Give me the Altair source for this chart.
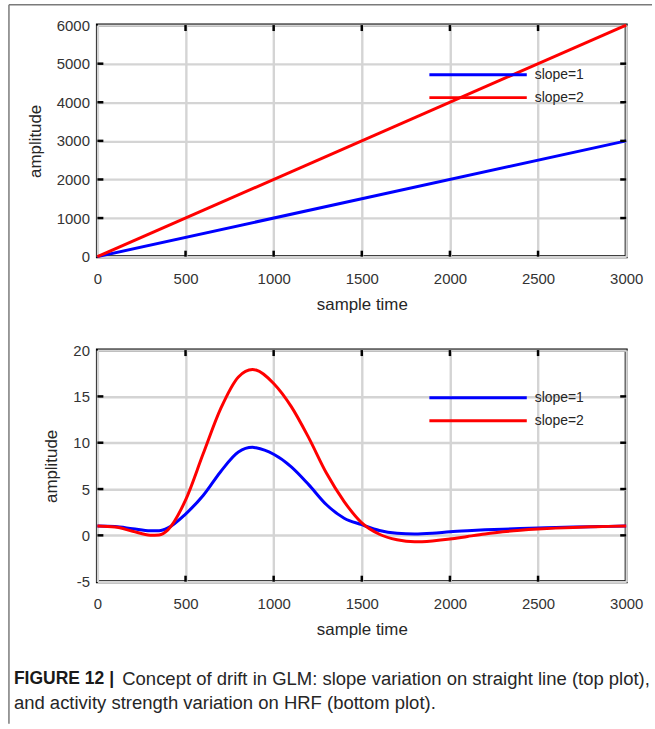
import altair as alt
import pandas as pd

# ---------------- data ----------------
series_names = ["slope=1", "slope=2"]
series_colors = ["#0000ff", "#ff0000"]

# top plot: straight lines
x_line = [0, 3000]
line_slope1 = [0, 3000]
line_slope2 = [0, 6000]

# bottom plot: HRF curves
x_hrf = [0, 100, 200, 300, 350, 400, 500, 600, 700, 800, 880, 900, 1000, 1100,
         1200, 1300, 1400, 1500, 1600, 1700, 1800, 1900, 2000, 2100, 2200, 2300,
         2400, 2500, 2600, 2700, 2800, 2900, 3000]
hrf_slope1 = [1.0, 0.95, 0.72, 0.5, 0.5, 0.8, 2.3, 4.3, 6.9, 9.0, 9.5, 9.45, 8.75, 7.4,
              5.45, 3.3, 1.85, 1.15, 0.52, 0.22, 0.14, 0.22, 0.38, 0.5, 0.6, 0.67,
              0.73, 0.79, 0.85, 0.9, 0.94, 0.97, 1.0]
hrf_slope2 = [1.0, 0.9, 0.45, 0.02, 0.05, 0.6, 3.8, 8.8, 13.7, 17.1, 17.9, 17.85, 16.4, 13.9,
              10.5, 6.7, 3.65, 1.35, 0.12, -0.48, -0.7, -0.6, -0.4, -0.12, 0.15, 0.38,
              0.55, 0.68, 0.78, 0.86, 0.92, 0.97, 1.0]

x_ticks = [0, 500, 1000, 1500, 2000, 2500, 3000]
top_y_ticks = [0, 1000, 2000, 3000, 4000, 5000, 6000]
bottom_y_ticks = [-5, 0, 5, 10, 15, 20]

caption_bold = "FIGURE 12 |"
caption_line1 = "Concept of drift in GLM: slope variation on straight line (top plot),"
caption_line2 = "and activity strength variation on HRF (bottom plot)."

# ---------------- layout / style ----------------
W, H = 532, 233
FONT = "Liberation Sans"
TICK_LEN = 6


def make_df(xs, ys_list):
    rows = []
    for name, ys in zip(series_names, ys_list):
        for xv, yv in zip(xs, ys):
            rows.append({"x": xv, "y": yv, "series": name})
    return pd.DataFrame(rows)


def panel(df, yticks, legend_y, extra=None):
    x_scale = alt.Scale(domain=[x_ticks[0], x_ticks[-1]], nice=False, zero=False)
    y_scale = alt.Scale(domain=[yticks[0], yticks[-1]], nice=False, zero=False)
    x_axis = alt.Axis(values=x_ticks, title="sample time", grid=True, domain=False,
                      ticks=False, labelPadding=15, titlePadding=10,
                      labelExpr="'' + datum.value", labelOverlap=False, labelFlush=False)
    y_axis = alt.Axis(values=yticks, title="amplitude", grid=True, domain=False,
                      ticks=False, labelPadding=8, titlePadding=12,
                      labelExpr="'' + datum.value", labelOverlap=False, labelFlush=False)
    lines = alt.Chart(df).mark_line(strokeWidth=3, clip=False, interpolate="monotone").encode(
        x=alt.X("x:Q", scale=x_scale, axis=x_axis),
        y=alt.Y("y:Q", scale=y_scale, axis=y_axis),
        color=alt.Color("series:N", scale=alt.Scale(domain=series_names, range=series_colors),
                        legend=None),
        order="x:Q",
    )
    xt = pd.DataFrame({"x": x_ticks[1:-1]})
    yt = pd.DataFrame({"y": yticks[1:-1]})
    xv = alt.X("x:Q", scale=x_scale, axis=x_axis)
    yv = alt.Y("y:Q", scale=y_scale, axis=y_axis)
    tick_layers = [
        alt.Chart(xt).mark_rule(color="black", strokeWidth=2.5).encode(
            x=xv, y=alt.value(0), y2=alt.value(TICK_LEN)),
        alt.Chart(xt).mark_rule(color="black", strokeWidth=2.5).encode(
            x=xv, y=alt.value(H - TICK_LEN), y2=alt.value(H)),
        alt.Chart(yt).mark_rule(color="black", strokeWidth=2.5).encode(
            y=yv, x=alt.value(0), x2=alt.value(TICK_LEN)),
        alt.Chart(yt).mark_rule(color="black", strokeWidth=2.5).encode(
            y=yv, x=alt.value(W - TICK_LEN), x2=alt.value(W)),
    ]
    legend_layers = []
    for i, (name, col) in enumerate(zip(series_names, series_colors)):
        ldf = pd.DataFrame({"series": [name]})
        yy = legend_y[i]
        legend_layers.append(
            alt.Chart(ldf).mark_rule(color=col, strokeWidth=3).encode(
                x=alt.value(334), x2=alt.value(432), y=alt.value(yy)))
        legend_layers.append(
            alt.Chart(ldf).mark_text(align="left", baseline="middle", font=FONT,
                                     fontSize=14, color="#262626").encode(
                x=alt.value(440), y=alt.value(yy), text="series:N"))
    layers = [lines] + tick_layers + legend_layers
    if extra:
        layers += extra
    return alt.layer(*layers).properties(width=W, height=H)


frame_df = pd.DataFrame({"k": [0]})
frame = [
    alt.Chart(frame_df).mark_rule(color="#7a7a7a", strokeWidth=1.5).encode(
        x=alt.value(-89), x2=alt.value(558), y=alt.value(-20.5)),
    alt.Chart(frame_df).mark_rule(color="#7a7a7a", strokeWidth=1.5).encode(
        x=alt.value(-89), y=alt.value(-20.5), y2=alt.value(703)),
]

top = panel(make_df(x_line, [line_slope1, line_slope2]), top_y_ticks, [50, 73], extra=frame)
bottom = panel(make_df(x_hrf, [hrf_slope1, hrf_slope2]), bottom_y_ticks, [48, 71])

cap_df = pd.DataFrame({"a": [caption_bold], "b": [caption_line1], "c": [caption_line2]})
CAP_FONT = "Liberation Sans"
CAP_SIZE = 18.6
caption = alt.layer(
    alt.Chart(cap_df).mark_text(align="left", baseline="middle", font=CAP_FONT, fontSize=17.6,
                                fontWeight="bold", color="#1a1a1a").encode(
        x=alt.value(-84), y=alt.value(4), text="a:N"),
    alt.Chart(cap_df).mark_text(align="left", baseline="middle", font=CAP_FONT, fontSize=CAP_SIZE,
                                color="#262626").encode(
        x=alt.value(25), y=alt.value(4), text="b:N"),
    alt.Chart(cap_df).mark_text(align="left", baseline="middle", font=CAP_FONT, fontSize=CAP_SIZE,
                                color="#262626").encode(
        x=alt.value(-84), y=alt.value(28), text="c:N"),
).properties(width=W, height=30, view=alt.ViewBackground(stroke=None))

chart = alt.vconcat(top, bottom, caption, spacing=94, bounds="flush").properties(
    padding={"left": 6, "top": 0, "right": 0, "bottom": 0},
    background="white",
).configure_view(
    stroke="black", strokeWidth=3
).configure_axis(
    labelFont=FONT, titleFont=FONT, labelFontSize=15, titleFontSize=17,
    labelColor="#333333", titleColor="#262626", titleFontWeight="normal",
    gridColor="#d4d4d4", gridWidth=2.4, gridOpacity=1,
)

chart.save("out.html", embed_options={"renderer": "svg", "actions": False})
